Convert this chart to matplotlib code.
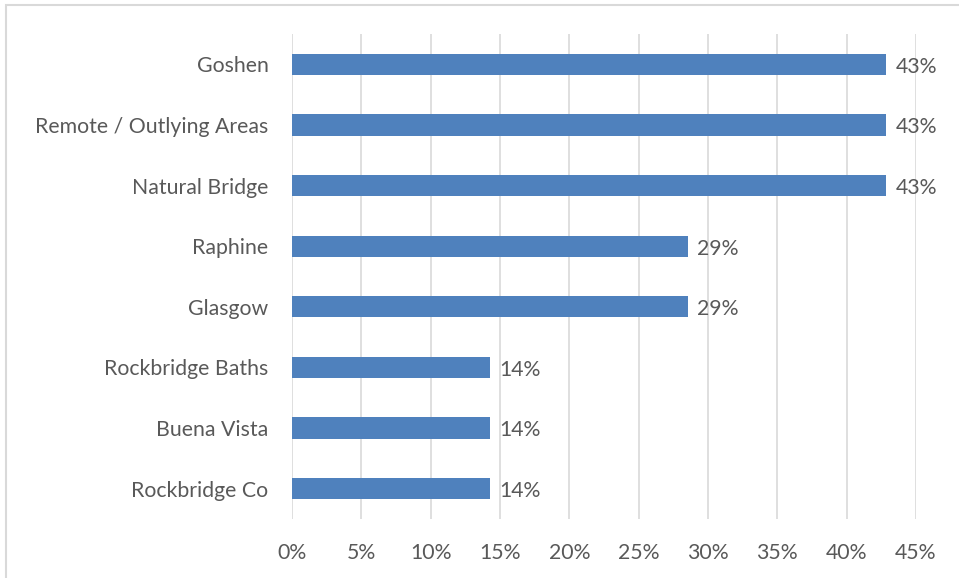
import matplotlib.pyplot as plt
from matplotlib.patches import Rectangle

# dados
categorias = ['Goshen', 'Remote / Outlying Areas', 'Natural Bridge', 'Raphine',
              'Glasgow', 'Rockbridge Baths', 'Buena Vista', 'Rockbridge Co']
valores = [0.4286, 0.4286, 0.4286, 0.2857, 0.2857, 0.1429, 0.1429, 0.1429]
rotulos = ['43%', '43%', '43%', '29%', '29%', '14%', '14%', '14%']
ticks_x = [0, 0.05, 0.10, 0.15, 0.20, 0.25, 0.30, 0.35, 0.40, 0.45]

cor_barra = '#4F81BD'
cor_texto = '#595959'
plt.rcParams['font.family'] = ['Lato', 'DejaVu Sans']
tam = 15.3

fig = plt.figure(figsize=(9.59, 5.78), dpi=100)
ax = fig.add_axes([292 / 959, 1 - 519 / 578, 624 / 959, 485 / 578])

y = list(range(len(categorias)))[::-1]
ax.barh(y, valores, height=0.35, color=cor_barra, zorder=3)

for yi, v, r in zip(y, valores, rotulos):
    ax.text(v + 0.0065, yi - 0.04, r, va='center', ha='left', fontsize=tam, color=cor_texto)

ax.set_xlim(0, 0.45)
ax.set_ylim(-0.5, len(categorias) - 0.5)
ax.set_xticks(ticks_x)
ax.set_xticklabels([f'{int(round(t * 100))}%' for t in ticks_x])
ax.set_yticks(y)
ax.set_yticklabels(categorias)
ax.tick_params(axis='both', length=0, labelsize=tam, labelcolor=cor_texto)
ax.tick_params(axis='y', pad=17)
ax.tick_params(axis='x', pad=17)
ax.grid(axis='x', color='#D9D9D9', linewidth=1.2, zorder=0)
for s in ax.spines.values():
    s.set_visible(False)

# moldura do gráfico
fig.patches.append(Rectangle((6 / 959, -0.01), 1.0, 1 - 5 / 578 + 0.01, transform=fig.transFigure,
                             fill=False, edgecolor='#D9D9D9', linewidth=1.5))

fig.savefig('out.png', dpi=100)
